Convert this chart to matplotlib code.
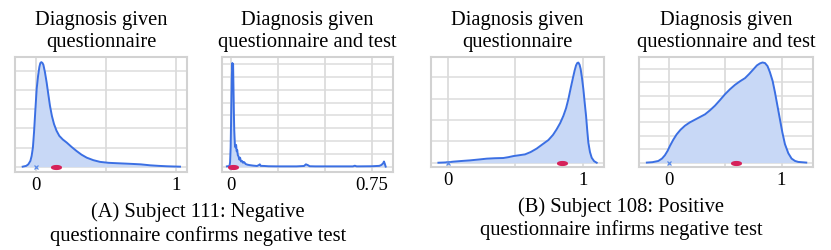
import numpy as np
import matplotlib
matplotlib.use("Agg")
import matplotlib.pyplot as plt

a1_x = [-0.095, -0.07, -0.055, -0.04, -0.031, -0.022, -0.014, -0.005, 0.005, 0.015, 0.024, 0.031, 0.038, 0.046, 0.053, 0.064, 0.076, 0.088, 0.10, 0.114, 0.129, 0.147, 0.167, 0.192, 0.22, 0.255, 0.29, 0.325, 0.363, 0.41, 0.458, 0.52, 0.578, 0.64, 0.697, 0.75, 0.816, 0.88, 0.936, 0.98, 1.03]
a1_y = [0.0, 0.04, 0.12, 0.3, 0.56, 1.0, 1.79, 2.9, 4.07, 4.75, 5.21, 5.42, 5.47, 5.43, 5.33, 4.95, 4.42, 3.8, 3.19, 2.65, 2.23, 1.88, 1.61, 1.42, 1.26, 1.03, 0.82, 0.63, 0.47, 0.34, 0.25, 0.2, 0.18, 0.16, 0.14, 0.12, 0.07, 0.04, 0.02, 0.01, 0.0]

a2_x = [-0.02, -0.006, -0.003, 0.0, 0.003, 0.006, 0.009, 0.011, 0.013, 0.015, 0.017, 0.019, 0.021, 0.023, 0.026, 0.029, 0.032, 0.035, 0.038, 0.042, 0.046, 0.050, 0.055, 0.060, 0.066, 0.072, 0.080, 0.090, 0.10, 0.12, 0.14, 0.15, 0.155, 0.16, 0.18, 0.20, 0.25, 0.30, 0.35, 0.39, 0.40, 0.41, 0.42, 0.45, 0.55, 0.65, 0.66, 0.67, 0.75, 0.79, 0.80, 0.81, 0.815, 0.82, 0.824]
a2_y = [0.02, 0.05, 0.35, 1.5, 4.2, 7.0, 8.1, 7.6, 8.0, 6.2, 4.3, 2.9, 2.2, 1.6, 1.5, 1.7, 1.2, 1.3, 0.9, 0.8, 0.55, 0.7, 0.4, 0.45, 0.3, 0.35, 0.2, 0.15, 0.12, 0.08, 0.05, 0.12, 0.18, 0.06, 0.05, 0.03, 0.02, 0.02, 0.02, 0.05, 0.18, 0.12, 0.03, 0.02, 0.02, 0.02, 0.07, 0.02, 0.03, 0.06, 0.12, 0.25, 0.4, 0.2, 0.0]

b1_x = [-0.069, -0.03, 0.0, 0.042, 0.1, 0.165, 0.23, 0.289, 0.35, 0.412, 0.45, 0.486, 0.53, 0.573, 0.615, 0.659, 0.70, 0.746, 0.78, 0.807, 0.833, 0.857, 0.877, 0.894, 0.91, 0.926, 0.94, 0.951, 0.96, 0.968, 0.977, 0.985, 0.995, 1.005, 1.015, 1.025, 1.034, 1.042, 1.054, 1.067, 1.085, 1.104]
b1_y = [0.0, 0.01, 0.02, 0.05, 0.08, 0.11, 0.15, 0.19, 0.21, 0.22, 0.26, 0.31, 0.35, 0.39, 0.5, 0.66, 0.85, 1.06, 1.3, 1.56, 1.85, 2.19, 2.55, 2.97, 3.45, 3.91, 4.3, 4.55, 4.66, 4.68, 4.58, 4.38, 3.95, 3.44, 2.8, 2.19, 1.5, 0.94, 0.5, 0.23, 0.07, 0.0]

b2_x = [-0.2, -0.15, -0.098, -0.065, -0.039, -0.015, 0.006, 0.035, 0.065, 0.1, 0.139, 0.183, 0.228, 0.273, 0.318, 0.362, 0.407, 0.452, 0.496, 0.54, 0.585, 0.63, 0.674, 0.71, 0.748, 0.78, 0.807, 0.83, 0.852, 0.875, 0.896, 0.92, 0.941, 0.963, 0.985, 1.007, 1.03, 1.06, 1.089, 1.12, 1.148, 1.22]
b2_y = [0.0, 0.03, 0.12, 0.3, 0.55, 0.88, 1.25, 1.7, 2.1, 2.45, 2.75, 3.0, 3.2, 3.4, 3.6, 3.9, 4.25, 4.67, 5.1, 5.47, 5.8, 6.07, 6.3, 6.6, 6.95, 7.25, 7.4, 7.47, 7.43, 7.2, 6.75, 6.1, 5.25, 4.25, 3.25, 2.25, 1.38, 0.7, 0.3, 0.12, 0.05, 0.0]

# markers: blue x (test result) and red point (estimate)
x_marks = [0.0, 0.0, 0.0, 0.0]
red_marks = [0.143, 0.01, 0.844, 0.593]

titles = [["Diagnosis given", "questionnaire"],
          ["Diagnosis given", "questionnaire and test"],
          ["Diagnosis given", "questionnaire"],
          ["Diagnosis given", "questionnaire and test"]]
tick_vals = [[0, 1], [0, 0.75], [0, 1], [0, 1]]
tick_labels = [["0", "1"], ["0", "0.75"], ["0", "1"], ["0", "1"]]
grid_x = [[0, 0.5, 1], [0, 0.25, 0.5, 0.75], [0, 0.5, 1], [0, 0.5, 1]]
grid_y_n = [5, 8, 4, 7]
captions = [["(A) Subject 111: Negative", "questionnaire confirms negative test"],
            ["(B) Subject 108: Positive", "questionnaire infirms negative test"]]

W, H = 831, 251
plt.rcParams['font.family'] = ['Liberation Serif', 'DejaVu Serif']
fig = plt.figure(figsize=(W / 100, H / 100), dpi=100)

# pixel rects: left, top, right, bottom
rects = [(15, 58, 187, 173), (222, 58, 393, 173), (431, 58, 604, 168), (639, 58, 813, 168)]
xlims = [(-0.15, 1.08), (-0.046, 0.863), (-0.124, 1.158), (-0.27, 1.28)]
ylims = [(-0.28, 5.74), (-0.42, 8.57), (-0.2, 4.94), (-0.33, 7.88)]
curves = [(a1_x, a1_y), (a2_x, a2_y), (b1_x, b1_y), (b2_x, b2_y)]

line_c = '#3b6fe3'
fill_c = '#c8d8f6'
red_c = '#d6225a'
grid_c = '#dcdcdc'

t = np.linspace(0, 2 * np.pi, 40)
ellipse = list(zip(2.6 * np.cos(t), np.sin(t)))

for i in range(4):
    l, tp, r, b = rects[i]
    ax = fig.add_axes([l / W, 1 - b / H, (r - l) / W, (b - tp) / H])
    ax.set_xlim(*xlims[i])
    ax.set_ylim(*ylims[i])
    for gx in grid_x[i]:
        ax.axvline(gx, color=grid_c, lw=1.3, zorder=0)
    for gy in range(grid_y_n[i] + 1):
        ax.axhline(gy, color=grid_c, lw=1.1, zorder=0)
    cx, cy = curves[i]
    ax.fill_between(cx, 0, cy, color=fill_c, lw=0, zorder=1)
    ax.plot(cx, cy, color=line_c, lw=1.4, zorder=2, solid_joinstyle='round')
    ax.plot([x_marks[i]], [0], marker='x', ms=3.5, mew=0.9, color='#5a8ae8', ls='none', zorder=3)
    ax.plot([red_marks[i]], [0], marker=ellipse, ms=7, color=red_c, ls='none', zorder=4)
    ax.set_yticks([])
    ax.set_xticks(tick_vals[i])
    ax.set_xticklabels(tick_labels[i])
    ax.tick_params(axis='x', length=0, pad=3, labelsize=13.5)
    for s in ax.spines.values():
        s.set_color('#d2d2d2')
        s.set_linewidth(1.5)
    cxp = (l + r) / 2
    fig.text(cxp / W, 1 - 25 / H, titles[i][0], ha='center', va='baseline', fontsize=14.8)
    fig.text(cxp / W, 1 - 46.5 / H, titles[i][1], ha='center', va='baseline', fontsize=14.8)

cap_pos = [(198, 217.5, 241.5), (621, 212, 235.5)]
for k in range(2):
    x, y1, y2 = cap_pos[k]
    fig.text(x / W, 1 - y1 / H, captions[k][0], ha='center', va='baseline', fontsize=14.8)
    fig.text(x / W, 1 - y2 / H, captions[k][1], ha='center', va='baseline', fontsize=14.8)

fig.savefig('out.png', dpi=100)
